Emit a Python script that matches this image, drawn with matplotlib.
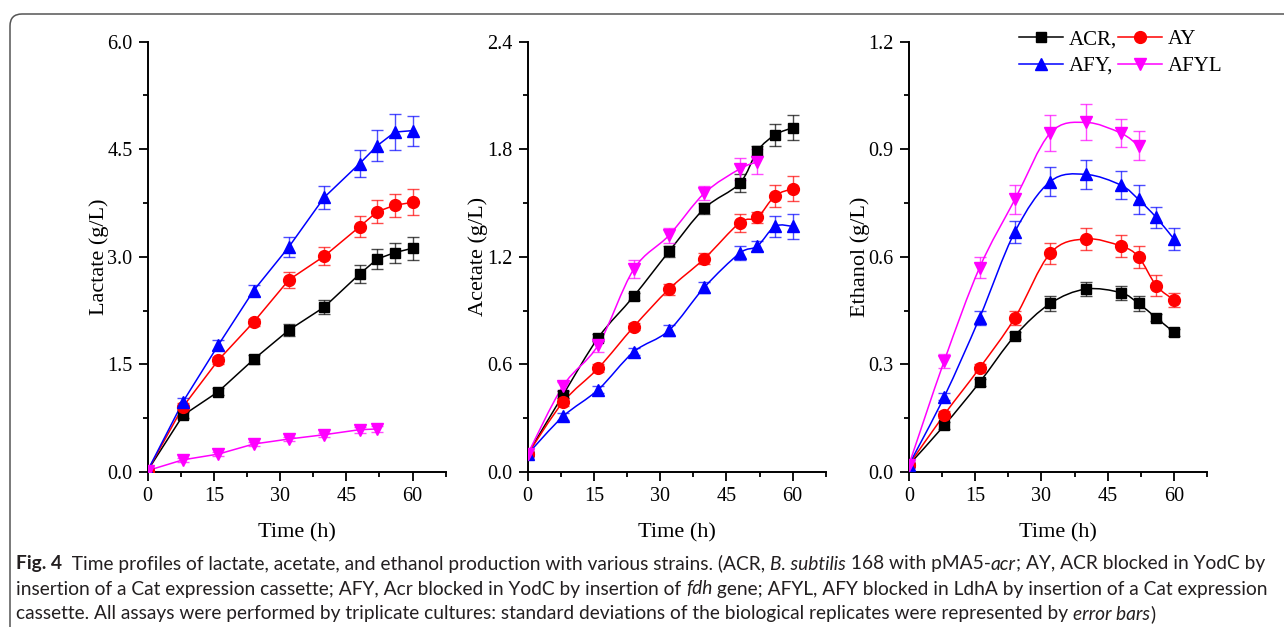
import numpy as np
import matplotlib
matplotlib.use('Agg')
import matplotlib.pyplot as plt
from matplotlib.ticker import MultipleLocator, FormatStrFormatter
from matplotlib.path import Path
from matplotlib.patches import PathPatch, FancyBboxPatch
from matplotlib.lines import Line2D
from matplotlib.transforms import IdentityTransform

plt.rcParams['font.family'] = ['Liberation Serif', 'DejaVu Serif']

# sampling times (h)
t_full = [0, 8, 16, 24, 32, 40, 48, 52, 56, 60]
t_afyl = [0, 8, 16, 24, 32, 40, 48, 52]

# lactate (g/L)
lac_acr = [0.02, 0.79, 1.12, 1.57, 1.98, 2.30, 2.76, 2.97, 3.06, 3.12]
lac_acr_sd = [0.01, 0.04, 0.05, 0.06, 0.08, 0.10, 0.13, 0.14, 0.14, 0.16]
lac_ay = [0.02, 0.91, 1.56, 2.09, 2.68, 3.01, 3.42, 3.63, 3.72, 3.76]
lac_ay_sd = [0.01, 0.05, 0.05, 0.05, 0.11, 0.13, 0.15, 0.16, 0.16, 0.18]
lac_afy = [0.02, 0.98, 1.77, 2.53, 3.14, 3.83, 4.30, 4.55, 4.74, 4.76]
lac_afy_sd = [0.01, 0.05, 0.07, 0.08, 0.14, 0.16, 0.19, 0.22, 0.25, 0.21]
lac_afyl = [0.02, 0.17, 0.25, 0.39, 0.46, 0.52, 0.59, 0.60]
lac_afyl_sd = [0.01, 0.03, 0.03, 0.03, 0.03, 0.03, 0.04, 0.04]

# acetate (g/L)
ace_acr = [0.10, 0.43, 0.75, 0.98, 1.23, 1.47, 1.61, 1.79, 1.88, 1.92]
ace_acr_sd = [0.01, 0.02, 0.02, 0.02, 0.03, 0.03, 0.05, 0.03, 0.06, 0.07]
ace_ay = [0.10, 0.39, 0.58, 0.81, 1.02, 1.19, 1.39, 1.42, 1.54, 1.58]
ace_ay_sd = [0.01, 0.02, 0.02, 0.02, 0.03, 0.03, 0.05, 0.03, 0.06, 0.07]
ace_afy = [0.10, 0.31, 0.46, 0.67, 0.79, 1.03, 1.22, 1.26, 1.37, 1.37]
ace_afy_sd = [0.01, 0.02, 0.02, 0.02, 0.03, 0.03, 0.04, 0.03, 0.06, 0.07]
ace_afyl = [0.10, 0.48, 0.71, 1.13, 1.32, 1.555, 1.69, 1.73]
ace_afyl_sd = [0.01, 0.02, 0.04, 0.05, 0.04, 0.04, 0.06, 0.07]

# ethanol (g/L)
eth_acr = [0.02, 0.13, 0.25, 0.38, 0.47, 0.51, 0.50, 0.47, 0.43, 0.39]
eth_acr_sd = [0.005, 0.01, 0.01, 0.01, 0.02, 0.02, 0.02, 0.02, 0.01, 0.01]
eth_ay = [0.02, 0.16, 0.29, 0.43, 0.61, 0.65, 0.63, 0.60, 0.52, 0.48]
eth_ay_sd = [0.005, 0.01, 0.01, 0.02, 0.03, 0.03, 0.03, 0.03, 0.03, 0.02]
eth_afy = [0.02, 0.21, 0.43, 0.67, 0.81, 0.83, 0.80, 0.76, 0.71, 0.65]
eth_afy_sd = [0.005, 0.01, 0.02, 0.03, 0.04, 0.04, 0.04, 0.04, 0.03, 0.03]
eth_afyl = [0.02, 0.31, 0.57, 0.76, 0.945, 0.975, 0.945, 0.91]
eth_afyl_sd = [0.005, 0.02, 0.03, 0.04, 0.05, 0.05, 0.04, 0.04]

strains = ['ACR', 'AY', 'AFY', 'AFYL']
colors = {'ACR': 'black', 'AY': '#ff0000', 'AFY': '#0000ff', 'AFYL': '#ff00ff'}
markers = {'ACR': 's', 'AY': 'o', 'AFY': '^', 'AFYL': 'v'}
msizes = {'ACR': 7.5, 'AY': 8.5, 'AFY': 9, 'AFYL': 9}


def smooth_path(x, y):
    # catmull-rom curve through the points, as cubic bezier pieces
    n = len(x)
    verts = [(x[0], y[0])]
    codes = [Path.MOVETO]
    for i in range(n - 1):
        p0 = max(i - 1, 0)
        p3 = min(i + 2, n - 1)
        c1 = (x[i] + (x[i + 1] - x[p0]) / 6, y[i] + (y[i + 1] - y[p0]) / 6)
        c2 = (x[i + 1] - (x[p3] - x[i]) / 6, y[i + 1] - (y[p3] - y[i]) / 6)
        verts += [c1, c2, (x[i + 1], y[i + 1])]
        codes += [Path.CURVE4] * 3
    return Path(verts, codes)


def draw_panel(ax, series, ymax, ystep, ylabel, smooth):
    for name, (t, y, sd) in series.items():
        c = colors[name]
        if smooth:
            ax.add_patch(PathPatch(smooth_path(t, y), fill=False, edgecolor=c, lw=1.1, zorder=2))
        else:
            ax.plot(t, y, '-', color=c, lw=1.1, zorder=2)
        ax.errorbar(t, y, yerr=sd, fmt='none', ecolor=c, elinewidth=1.0, capsize=4,
                    capthick=1.0, alpha=0.7, zorder=2)
        ax.plot(t, y, linestyle='none', marker=markers[name], ms=msizes[name],
                color=c, mec=c, zorder=3)
    ax.set_xlim(0, 67.5)
    ax.set_ylim(0, ymax)
    ax.set_xticks([0, 15, 30, 45, 60])
    ax.xaxis.set_minor_locator(MultipleLocator(7.5))
    ax.set_yticks(np.arange(0, ymax + 1e-9, ystep))
    ax.yaxis.set_minor_locator(MultipleLocator(ystep / 2))
    ax.yaxis.set_major_formatter(FormatStrFormatter('%.1f'))
    for s in ['top', 'right']:
        ax.spines[s].set_visible(False)
    for s in ['left', 'bottom']:
        ax.spines[s].set_linewidth(1.4)
    ax.tick_params(which='major', direction='out', length=6.5, width=1.3, labelsize=14.5, pad=4.5)
    ax.tick_params(which='minor', direction='out', length=3.5, width=1.3)
    ax.set_xlabel('Time (h)', fontsize=16, labelpad=12)
    ax.set_ylabel(ylabel, fontsize=16, labelpad=-1)


fig = plt.figure(figsize=(12.84, 6.27), dpi=100)

lefts = [0.1150, 0.4110, 0.7079]
axs = [fig.add_axes([l, 0.2472, 0.2321, 0.6863]) for l in lefts]

draw_panel(axs[0], {'ACR': (t_full, lac_acr, lac_acr_sd), 'AY': (t_full, lac_ay, lac_ay_sd),
                    'AFY': (t_full, lac_afy, lac_afy_sd), 'AFYL': (t_afyl, lac_afyl, lac_afyl_sd)},
           6.0, 1.5, 'Lactate (g/L)', False)
draw_panel(axs[1], {'ACR': (t_full, ace_acr, ace_acr_sd), 'AY': (t_full, ace_ay, ace_ay_sd),
                    'AFY': (t_full, ace_afy, ace_afy_sd), 'AFYL': (t_afyl, ace_afyl, ace_afyl_sd)},
           2.4, 0.6, 'Acetate (g/L)', True)
draw_panel(axs[2], {'ACR': (t_full, eth_acr, eth_acr_sd), 'AY': (t_full, eth_ay, eth_ay_sd),
                    'AFY': (t_full, eth_afy, eth_afy_sd), 'AFYL': (t_afyl, eth_afyl, eth_afyl_sd)},
           1.2, 0.3, 'Ethanol (g/L)', True)

# legend, row by row: ACR, AY / AFY, AFYL
handles = {n: Line2D([], [], color=colors[n], marker=markers[n], ms=msizes[n], lw=1.1) for n in strains}
labels = {'ACR': 'ACR,', 'AY': 'AY', 'AFY': 'AFY,', 'AFYL': 'AFYL'}
order = ['ACR', 'AFY', 'AY', 'AFYL']
fig.legend([handles[n] for n in order], [labels[n] for n in order], ncol=2,
           loc='upper left', bbox_to_anchor=(0.7936, 0.953), frameon=False, fontsize=15,
           handlelength=2.1, handletextpad=0.3, columnspacing=0.05, labelspacing=0.35,
           borderpad=0, borderaxespad=0)

# rounded frame around the figure
frame = FancyBboxPatch((10, -40), 1400, 613 + 40, boxstyle='round,pad=0,rounding_size=12',
                       transform=IdentityTransform(), fill=False, edgecolor='#555555', lw=1.1)
fig.patches.append(frame)

# caption with mixed styles
cap_font = ['Lato', 'DejaVu Sans']
cap_size = 13.8
cap_lines = [
    [('Fig. 4', 'bold', 'normal'),
     ('  Time profiles of lactate, acetate, and ethanol production with various strains. (ACR, ', 'normal', 'normal'),
     ('B. subtilis', 'normal', 'italic'), (' 168 with pMA5-', 'normal', 'normal'),
     ('acr', 'normal', 'italic'), ('; AY, ACR blocked in YodC by', 'normal', 'normal')],
    [('insertion of a Cat expression cassette; AFY, Acr blocked in YodC by insertion of ', 'normal', 'normal'),
     ('fdh', 'normal', 'italic'),
     (' gene; AFYL, AFY blocked in LdhA by insertion of a Cat expression', 'normal', 'normal')],
    [('cassette. All assays were performed by triplicate cultures: standard deviations of the biological replicates were represented by ', 'normal', 'normal'),
     ('error bars', 'normal', 'italic'), (')', 'normal', 'normal')],
]
cap_y = [627 - 564, 627 - 589, 627 - 614]

renderer = fig.canvas.get_renderer()
for parts, y in zip(cap_lines, cap_y):
    x = 16
    for txt, wt, st in parts:
        t = fig.text(x, y, txt, family=cap_font, fontsize=cap_size, weight=wt, style=st,
                     va='center', ha='left', color='#231f20', transform=IdentityTransform())
        x = t.get_window_extent(renderer).x1

fig.savefig('out.png', dpi=100)
